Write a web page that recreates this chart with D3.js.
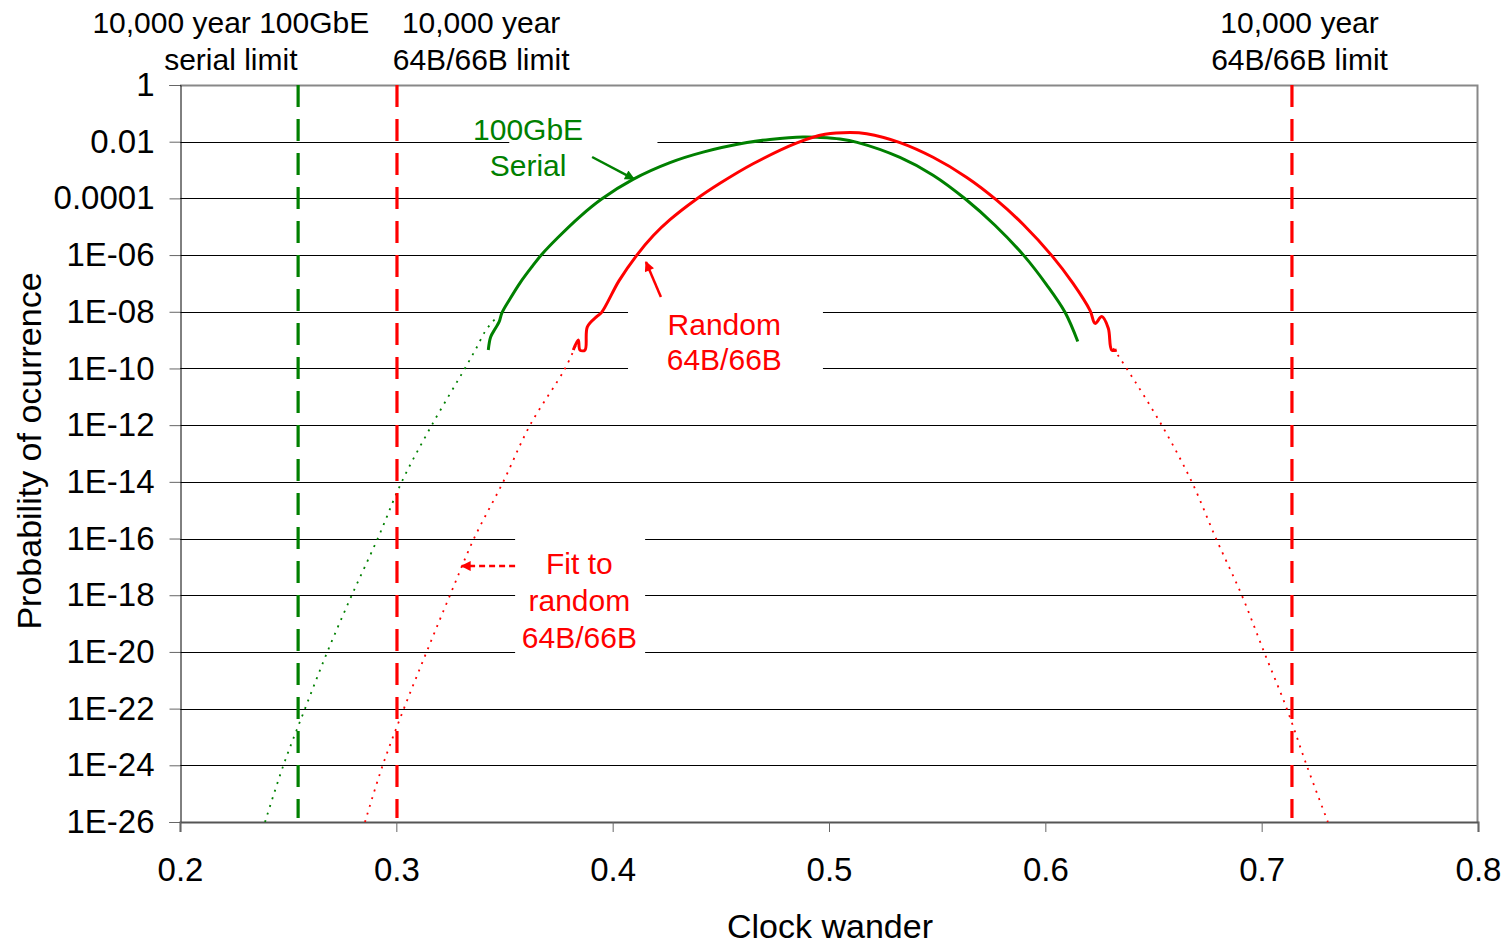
<!DOCTYPE html>
<html><head><meta charset="utf-8">
<script src="https://cdn.jsdelivr.net/npm/d3@7"></script>
<style>body{margin:0;background:#fff}svg{display:block;font-family:"Liberation Sans",Arial,sans-serif}</style>
</head><body>
<script>
// ---- data ----
const xTicks = [0.2, 0.3, 0.4, 0.5, 0.6, 0.7, 0.8];
const xTickLabels = ["0.2","0.3","0.4","0.5","0.6","0.7","0.8"];
const yTicks = [1,1e-2,1e-4,1e-6,1e-8,1e-10,1e-12,1e-14,1e-16,1e-18,1e-20,1e-22,1e-24,1e-26];
const yTickLabels = ["1","0.01","0.0001","1E-06","1E-08","1E-10","1E-12","1E-14","1E-16","1E-18","1E-20","1E-22","1E-24","1E-26"];

// 100GbE serial measured
const serialX = [0.3425,0.3436,0.3456,0.3475,0.3488,0.3525,0.3572,0.3626,0.3672,0.3747,0.3849,0.3949,0.4094,0.4265,0.4418,0.4621,0.4727,0.4880,0.4958,0.5051,0.5130,0.5328,0.5481,0.5632,0.5767,0.5901,0.6006,0.6091,0.6150];
const serialY = [4.47e-10,1.29e-9,2.45e-9,4.37e-9,9.1e-9,2.82e-8,1.05e-7,3.8e-7,1.05e-6,4.17e-6,2.29e-5,9.5e-5,4.68e-4,1.82e-3,4.27e-3,9.3e-3,1.2e-2,1.47e-2,1.41e-2,1.24e-2,9.5e-3,2.8e-3,6.6e-4,9.33e-5,1.13e-5,9.55e-7,8.9e-8,9.55e-9,8.91e-10];

// Random 64B/66B measured
const randomX = [0.3818,0.3841,0.3849,0.3872,0.3883,0.3926,0.3949,0.4029,0.4111,0.4188,0.4265,0.4385,0.4496,0.4649,0.4852,0.4982,0.5097,0.5174,0.5328,0.5481,0.5637,0.5775,0.5898,0.6030,0.6128,0.6207,0.6230,0.6261,0.6291,0.6307,0.6330];
const randomY = [4.47e-10,1.02e-9,4.47e-10,4.47e-10,2.95e-9,6.76e-9,9.55e-9,1.23e-7,9.8e-7,4.9e-6,1.78e-5,9.2e-5,3.39e-4,1.66e-3,9.1e-3,1.82e-2,2.11e-2,1.91e-2,9.3e-3,2.82e-3,5.5e-4,8.7e-5,1.2e-5,9.55e-7,1.0e-7,1.1e-8,3.89e-9,6.76e-9,2.63e-9,4.47e-10,4.47e-10];

// Fit to 100GbE serial (left tail)
const serialFitX = [0.2393,0.2478,0.2578,0.2681,0.2794,0.2914,0.3025,0.3164,0.3317,0.3348,0.3372,0.3410,0.3441,0.3471];
const serialFitY = [1e-26,1e-24,1e-22,1e-20,1e-18,1e-16,1e-14,1e-12,1e-10,2.63e-10,5.62e-10,2.0e-9,4.07e-9,7.08e-9];

// Fit to random 64B/66B (left and right tails)
const randomFitLeftX = [0.2855,0.2937,0.3035,0.3140,0.3248,0.3359,0.3494,0.3618,0.3780,0.3834];
const randomFitLeftY = [1e-26,1e-24,1e-22,1e-20,1e-18,1e-16,1e-14,1e-12,1e-10,7.76e-10];
const randomFitRightX = [0.6314,0.6376,0.6538,0.6677,0.6789,0.6908,0.7011,0.7116,0.7208,0.7306];
const randomFitRightY = [5.13e-10,1e-10,1e-12,1e-14,1e-16,1e-18,1e-20,1e-22,1e-24,1e-26];

// 10,000 year limits
const limitX = [0.2546, 0.3003, 0.714];
const limitNames = ["serial", "random", "random"];

// ---- layout ----
const W = 1509, H = 945;
const m = {left:180, right:31, top:85, bottom:123};
const GREEN = "#008000", RED = "#ff0000";
const FS = 30, FS_TICK = 33, FS_TITLE = 34;

const svg = d3.select("body").append("svg").attr("width", W).attr("height", H);
const x = d3.scaleLinear().domain([0.2, 0.8]).range([m.left, W - m.right]);
const y = d3.scaleLog().domain([1e-26, 1]).range([H - m.bottom, m.top]);

// gridlines
svg.append("g").selectAll("line").data(yTicks.slice(1, -1)).join("line")
  .attr("x1", m.left).attr("x2", W - m.right)
  .attr("y1", d => Math.round(y(d)) + 0.5).attr("y2", d => Math.round(y(d)) + 0.5)
  .attr("stroke", "#000").attr("stroke-width", 1);

// plot border (top/right) gray
svg.append("path")
  .attr("d", `M${m.left},${m.top + 0.5}H${W - m.right - 0.5}V${H - m.bottom}`)
  .attr("fill", "none").attr("stroke", "#888").attr("stroke-width", 2);

// y axis
const yAxis = d3.axisLeft(y).tickValues(yTicks).tickSize(11)
  .tickFormat((d, i) => yTickLabels[i]).tickPadding(15);
const gy = svg.append("g").attr("transform", `translate(${m.left + 0.5},0)`).call(yAxis);
gy.select(".domain").attr("stroke", "#000");
gy.selectAll(".tick line").attr("stroke", "#666");
gy.selectAll(".tick text").attr("font-size", FS_TICK).attr("fill", "#000")
  .attr("font-family", "Liberation Sans, Arial, sans-serif");

// x axis
const xAxis = d3.axisBottom(x).tickValues(xTicks).tickSize(10)
  .tickFormat((d, i) => xTickLabels[i]).tickPadding(26);
const gx = svg.append("g").attr("transform", `translate(0,${H - m.bottom})`).call(xAxis);
gx.select(".domain").attr("stroke", "#555").attr("stroke-width", 2);
gx.selectAll(".tick line").attr("stroke", "#666");
gx.selectAll(".tick text").attr("font-size", FS_TICK).attr("fill", "#000")
  .attr("font-family", "Liberation Sans, Arial, sans-serif");

// axis titles
svg.append("text").attr("x", (m.left + W - m.right) / 2 + 1).attr("y", 938)
  .attr("text-anchor", "middle").attr("font-size", FS_TITLE).text("Clock wander");
svg.append("text").attr("transform", `translate(41,${451}) rotate(-90)`)
  .attr("text-anchor", "middle").attr("font-size", FS_TITLE).text("Probability of ocurrence");

// annotation white boxes (hide gridlines behind labels)
const boxes = [
  {x0:0.3522, x1:0.4207, y0:2.0e-1, y1:2.2e-4},
  {x0:0.4071, x1:0.4972, y0:3.3e-8, y1:4.0e-11},
  {x0:0.3549, x1:0.4150, y0:5e-16, y1:3e-21}
];
svg.append("g").selectAll("rect").data(boxes).join("rect")
  .attr("x", d => x(d.x0)).attr("width", d => x(d.x1) - x(d.x0))
  .attr("y", d => y(d.y0)).attr("height", d => y(d.y1) - y(d.y0))
  .attr("fill", "#fff");

const line = (xs, ys) => d3.line().x((d, i) => x(xs[i])).y((d, i) => y(ys[i]))
  .curve(d3.curveCatmullRom.alpha(0.5))(xs);

// fits (dotted)
const fits = [
  [serialFitX, serialFitY, GREEN],
  [randomFitLeftX, randomFitLeftY, RED],
  [randomFitRightX, randomFitRightY, RED]
];
fits.forEach(([xs, ys, c]) => {
  svg.append("path").attr("d", line(xs, ys)).attr("fill", "none")
    .attr("stroke", c).attr("stroke-width", 1.8).attr("stroke-dasharray", "2,6");
});

// vertical limit lines
svg.append("g").selectAll("line").data(limitX).join("line")
  .attr("x1", d => x(d)).attr("x2", d => x(d))
  .attr("y1", m.top).attr("y2", H - m.bottom - 4)
  .attr("stroke", (d, i) => limitNames[i] === "serial" ? GREEN : RED)
  .attr("stroke-width", 3.2).attr("stroke-dasharray", "22,12");

// measured curves
svg.append("path").attr("d", line(serialX, serialY)).attr("fill", "none")
  .attr("stroke", GREEN).attr("stroke-width", 3).attr("stroke-linejoin", "round");
svg.append("path").attr("d", line(randomX, randomY)).attr("fill", "none")
  .attr("stroke", RED).attr("stroke-width", 3).attr("stroke-linejoin", "round");

// arrows
const defs = svg.append("defs");
[["ag", GREEN], ["ar", RED]].forEach(([id, c]) => {
  defs.append("marker").attr("id", id).attr("viewBox", "0 0 10 10")
    .attr("refX", 9).attr("refY", 5).attr("markerWidth", 5).attr("markerHeight", 4)
    .attr("markerUnits", "strokeWidth").attr("orient", "auto")
    .append("path").attr("d", "M0,0L10,5L0,10Z").attr("fill", c);
});
const arrows = [
  {x0:0.3905, y0:2.88e-3, x1:0.4099, y1:4.79e-4, c:GREEN, m:"ag", dash:null},
  {x0:0.4223, y0:3.31e-8, x1:0.4154, y1:5.75e-7, c:RED, m:"ar", dash:null},
  {x0:0.3549, y0:1.07e-17, x1:0.3302, y1:1.07e-17, c:RED, m:"ar", dash:"6,4"}
];
svg.append("g").selectAll("line").data(arrows).join("line")
  .attr("x1", d => x(d.x0)).attr("y1", d => y(d.y0))
  .attr("x2", d => x(d.x1)).attr("y2", d => y(d.y1))
  .attr("stroke", d => d.c).attr("stroke-width", 2.5)
  .attr("stroke-dasharray", d => d.dash)
  .attr("marker-end", d => `url(#${d.m})`);

// annotation labels
const notes = [
  {t:"100GbE", x:0.3609, y:1.15e-2, c:GREEN},
  {t:"Serial", x:0.3609, y:6.2e-4, c:GREEN},
  {t:"Random", x:0.4516, y:1.5e-9, c:RED},
  {t:"64B/66B", x:0.4516, y:9e-11, c:RED},
  {t:"Fit to", x:0.3846, y:5.5e-18, c:RED},
  {t:"random", x:0.3846, y:2.8e-19, c:RED},
  {t:"64B/66B", x:0.3846, y:1.35e-20, c:RED}
];
svg.append("g").selectAll("text").data(notes).join("text")
  .attr("x", d => x(d.x)).attr("y", d => y(d.y))
  .attr("text-anchor", "middle").attr("font-size", FS).attr("fill", d => d.c)
  .text(d => d.t);

// top labels for limit lines
const topLabels = [
  {lines:["10,000 year 100GbE", "serial limit"], x:0.2235},
  {lines:["10,000 year", "64B/66B limit"], x:0.3392},
  {lines:["10,000 year", "64B/66B limit"], x:0.7175}
];
topLabels.forEach(l => {
  l.lines.forEach((s, i) => {
    svg.append("text").attr("x", x(l.x)).attr("y", 33 + i * 37)
      .attr("text-anchor", "middle").attr("font-size", FS).attr("fill", "#000").text(s);
  });
});
</script>
</body></html>
